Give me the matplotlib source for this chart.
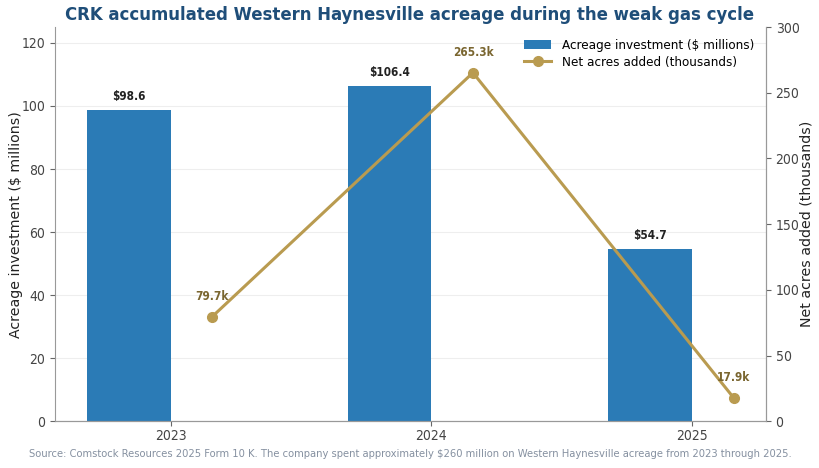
import matplotlib.pyplot as plt
import numpy as np

plt.rcParams["font.stretch"] = "condensed"

# Data
years = ["2023", "2024", "2025"]
investment = [98.6, 106.4, 54.7]      # $ millions
net_acres = [79.7, 265.3, 17.9]       # thousands

bar_color = "#2b7bb6"
line_color = "#b99b50"
label_color = "#7a6630"

x = np.arange(len(years))

fig = plt.figure(figsize=(8.2, 4.68), dpi=100)
ax = fig.add_axes([0.067, 0.1, 0.867, 0.842])
ax2 = ax.twinx()

bars = ax.bar(x - 0.16, investment, width=0.32, color=bar_color,
              label="Acreage investment ($ millions)", zorder=2)
line, = ax2.plot(x + 0.16, net_acres, "-o", color=line_color, lw=2.2, ms=7,
                 label="Net acres added (thousands)", zorder=3)

for xi, v in zip(x, investment):
    ax.annotate(f"${v:.1f}", (xi - 0.16, v), xytext=(0, 5), textcoords="offset points",
                ha="center", va="bottom", fontsize=8.5, fontweight="bold", color="#222222")
for xi, v in zip(x, net_acres):
    ax2.annotate(f"{v:.1f}k", (xi + 0.16, v), xytext=(0, 10), textcoords="offset points",
                 ha="center", va="bottom", fontsize=8.5, fontweight="bold", color=label_color)

ax.set_ylim(0, 125)
ax2.set_ylim(0, 300)
ax.set_xticks(x)
ax.set_xticklabels(years)
ax.set_ylabel("Acreage investment ($ millions)", fontsize=10.2, color="#222222",
              fontstretch="normal", labelpad=-1.5)
ax2.set_ylabel("Net acres added (thousands)", fontsize=10.2, color="#222222",
               fontstretch="normal", labelpad=0)

ax.grid(axis="y", color="#eeeeee", lw=0.8, zorder=0)
ax.set_axisbelow(True)
for a in (ax, ax2):
    a.spines["top"].set_visible(False)
    for s in ("left", "right", "bottom"):
        a.spines[s].set_color("#999999")
    a.tick_params(colors="#666666", labelsize=10, labelcolor="#444444")
ax.tick_params(axis="x", pad=2, labelsize=10)
ax2.spines["left"].set_visible(False)

ax.legend([bars, line], [bars.get_label(), line.get_label()], loc="upper right",
          frameon=False, fontsize=9.6, labelspacing=0.3, bbox_to_anchor=(1.0, 1.0))

fig.suptitle("CRK accumulated Western Haynesville acreage during the weak gas cycle",
             x=0.5, y=0.988, fontsize=13.2, fontweight="bold", color="#1f4e79")
fig.text(0.5, 0.023, "Source: Comstock Resources 2025 Form 10 K. The company spent approximately "
         "$260 million on Western Haynesville acreage from 2023 through 2025.",
         ha="center", fontsize=8, color="#8590a0")

plt.savefig("out.png", dpi=100)
